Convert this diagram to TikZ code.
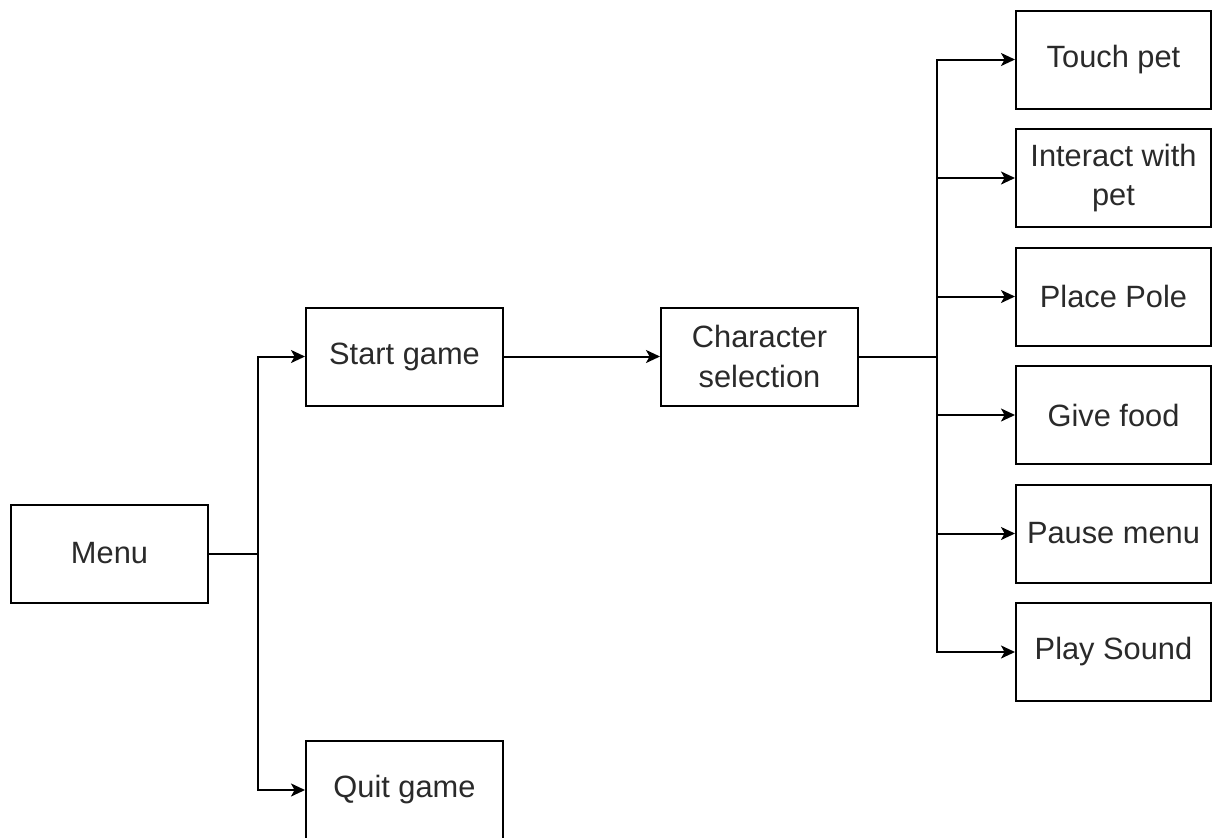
\documentclass[tikz,border=0pt]{standalone}
\usepackage{fontspec}
\setmainfont{Liberation Sans}
\usetikzlibrary{arrows.meta}
\definecolor{txt}{HTML}{2a2a2a}
\begin{document}
\begin{tikzpicture}[x=0.5pt,y=-0.5pt,
  box/.style={draw=black,line width=1pt,fill=white,minimum width=98.5pt,minimum height=49pt,inner sep=0pt,align=center,text=txt,font=\fontsize{15.4}{19.8}\selectfont},
  rbox/.style={box,minimum width=97.5pt},
  conn/.style={draw=black,line width=1pt},
  arr/.style={conn,-{Stealth[length=7pt,width=6.5pt,inset=1.8pt]}}]
\useasboundingbox (0,0) rectangle (1212,837);
\fill[white] (0,0) rectangle (1212,837);
\node[box] (menu) at (109.5,553.5) {Menu};
\node[box] (start) at (404.5,356.5) {Start game};
\node[box] (quit) at (404.5,790) {Quit game};
\node[box] (char) at (759.5,356.5) {Character\\selection};
\node[rbox] (touch) at (1113.5,59.5) {Touch pet};
\node[rbox] (inter) at (1113.5,178) {Interact with\\pet};
\node[rbox] (pole) at (1113.5,296.5) {Place Pole};
\node[rbox] (food) at (1113.5,415) {Give food};
\node[rbox] (pause) at (1113.5,533.5) {Pause menu};
\node[rbox] (sound) at (1113.5,652) {Play Sound};
\coordinate (busL) at (257.5,553.5);
\coordinate (busR) at (937,356.5);
\draw[conn] (menu.east) -- (busL);
\draw[arr] (busL) |- (start.west);
\draw[arr] (busL) |- (quit.west);
\draw[arr] (start.east) -- (char.west);
\draw[conn] (char.east) -- (busR);
\foreach \n in {touch,inter,pole,food,pause,sound}
  \draw[arr] (busR) |- (\n.west);
\end{tikzpicture}
\end{document}
